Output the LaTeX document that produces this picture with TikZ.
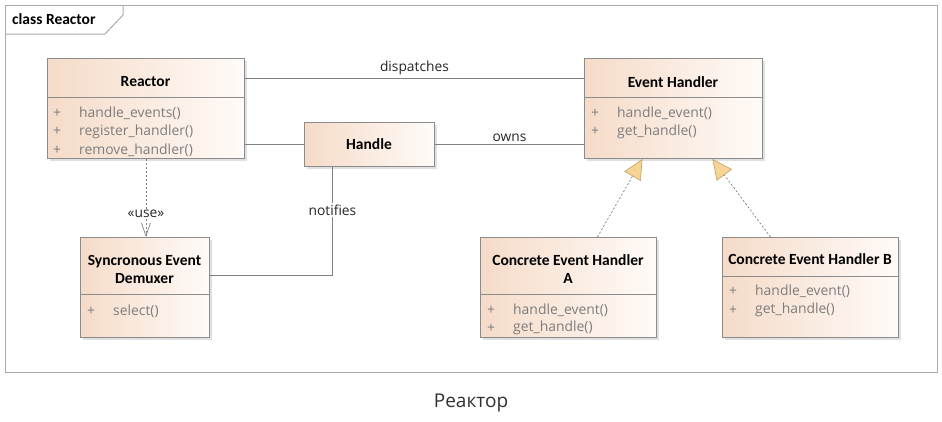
\documentclass[tikz,border=0pt]{standalone}
\usepackage{fontspec}
\setmainfont{Carlito}
\newfontfamily\capfont{Open Sans}
\newfontfamily\methfont{Open Sans}
\usetikzlibrary{arrows.meta,shadows,calc}
\definecolor{boxL}{RGB}{245,219,200}
\definecolor{boxR}{RGB}{255,251,248}
\definecolor{boxborder}{RGB}{140,140,140}
\definecolor{linegray}{RGB}{128,128,128}
\definecolor{methgray}{RGB}{125,125,125}
\definecolor{framegray}{RGB}{170,170,170}
\definecolor{trifill}{RGB}{247,212,150}
\definecolor{triborder}{RGB}{200,165,105}
\definecolor{capgray}{RGB}{50,50,50}
\tikzset{
  umlbox/.style={draw=boxborder, line width=0.9pt, left color=boxL, right color=boxR,
    anchor=north west, inner sep=0pt,
    drop shadow={shadow xshift=3pt, shadow yshift=-3pt, fill=black, opacity=0.12}},
  ttl/.style={font=\bfseries\fontsize{15.5}{18}\selectfont, align=center, text=black, inner sep=0pt},
  meth/.style={font=\methfont\fontsize{13.9}{18}\selectfont, text=methgray, anchor=west, inner sep=0pt},
  plus/.style={font=\methfont\fontsize{13.9}{18}\selectfont, text=methgray, inner sep=0pt},
  divider/.style={draw=boxborder, line width=0.9pt},
  conn/.style={draw=linegray, line width=0.8pt},
  lbl/.style={font=\methfont\fontsize{13.8}{18}\selectfont, text=black!85, inner sep=1.5pt},
  real/.style={draw=linegray, line width=0.7pt, dash pattern=on 2pt off 2pt,
    -{Triangle[length=20pt, width=19pt, color=triborder, fill=trifill, line width=0.7pt]}},
  usedep/.style={draw=linegray, line width=0.7pt, dash pattern=on 2pt off 2pt,
    -{Straight Barb[length=13pt, width=9pt, line width=0.7pt]}}
}
\begin{document}
\begin{tikzpicture}[x=1pt,y=-1pt]
\useasboundingbox (0,0) rectangle (942,421);
\fill[white] (0,0) rectangle (942,421);
% frame
\draw[framegray, line width=1pt] (5,5) rectangle (937,372);
\draw[framegray, line width=1pt] (123,5) -- (123,15) -- (105,34) -- (5,34);
\node[anchor=west, font=\bfseries\fontsize{15.5}{18}\selectfont, inner sep=0pt] (frametitle) at (12,19) {class Reactor};

% Reactor
\node[umlbox, minimum width=197pt, minimum height=100pt] (reactor) at (47,58) {};
\node[ttl] (reactorT) at (145.5,82) {Reactor};
\draw[divider] (47,97) -- (244,97);
\node[plus] (rp1) at (57,113) {+};
\node[meth] (rm1) at (79,113) {handle\_events()};
\node[plus] (rp2) at (57,131.5) {+};
\node[meth] (rm2) at (79,131.5) {register\_handler()};
\node[plus] (rp3) at (57,150) {+};
\node[meth] (rm3) at (79,150) {remove\_handler()};

% Handle
\node[umlbox, minimum width=130pt, minimum height=44pt] (handle) at (304,122) {};
\node[ttl] (handleT) at (369,144) {Handle};

% Event Handler
\node[umlbox, minimum width=178pt, minimum height=100pt] (evh) at (584,58) {};
\node[ttl] (evhT) at (673,82) {Event Handler};
\draw[divider] (584,97) -- (762,97);
\node[plus] (ep1) at (595,113) {+};
\node[meth] (em1) at (617,113) {handle\_event()};
\node[plus] (ep2) at (595,131.5) {+};
\node[meth] (em2) at (617,131.5) {get\_handle()};

% Demuxer
\node[umlbox, minimum width=129pt, minimum height=100pt] (demux) at (80,237) {};
\node[ttl] (demuxT) at (144.5,269) {Syncronous Event\\Demuxer};
\draw[divider] (80,294) -- (209,294);
\node[plus] (dp1) at (91,311) {+};
\node[meth] (dm1) at (113,311) {select()};

% Concrete A
\node[umlbox, minimum width=176pt, minimum height=100pt] (conca) at (480,237) {};
\node[ttl] (concaT) at (568,269) {Concrete Event Handler\\A};
\draw[divider] (480,294) -- (656,294);
\node[plus] (ap1) at (491,310) {+};
\node[meth] (am1) at (513,310) {handle\_event()};
\node[plus] (ap2) at (491,328) {+};
\node[meth] (am2) at (513,328) {get\_handle()};

% Concrete B
\node[umlbox, minimum width=176pt, minimum height=100pt] (concb) at (722,237) {};
\node[ttl] (concbT) at (810,259) {Concrete Event Handler B};
\draw[divider] (722,276) -- (898,276);
\node[plus] (bp1) at (733,291.5) {+};
\node[meth] (bm1) at (755,291.5) {handle\_event()};
\node[plus] (bp2) at (733,310) {+};
\node[meth] (bm2) at (755,310) {get\_handle()};

% connectors
\draw[conn] ($(reactor.north east)!0.2!(reactor.south east)$)
  -- node[lbl, above, yshift=1pt] {dispatches} ($(evh.north west)!0.2!(evh.south west)$);
\draw[conn] (reactor.east |- handle.west) -- (handle.west);
\draw[conn] (handle.east) -- node[lbl, above, yshift=1pt] {owns} (handle.east -| evh.west);
\draw[conn] ([xshift=-37pt]handle.south) |- node[lbl, pos=0.2, fill=white] {notifies} ([yshift=12pt]demux.east);
\draw[usedep] (reactor.south) -- node[lbl, pos=0.7, fill=white, inner sep=0.5pt] {«use»} (reactor.south |- demux.north);
\draw[real] ([xshift=29pt]conca.north) -- ([xshift=-31pt]evh.south);
\draw[real] ([xshift=-40pt]concb.north) -- ([xshift=39pt]evh.south);

% caption
\node[font=\capfont\fontsize{19}{22}\selectfont, text=capgray] (caption) at (471,403) {Реактор};
\end{tikzpicture}
\end{document}
